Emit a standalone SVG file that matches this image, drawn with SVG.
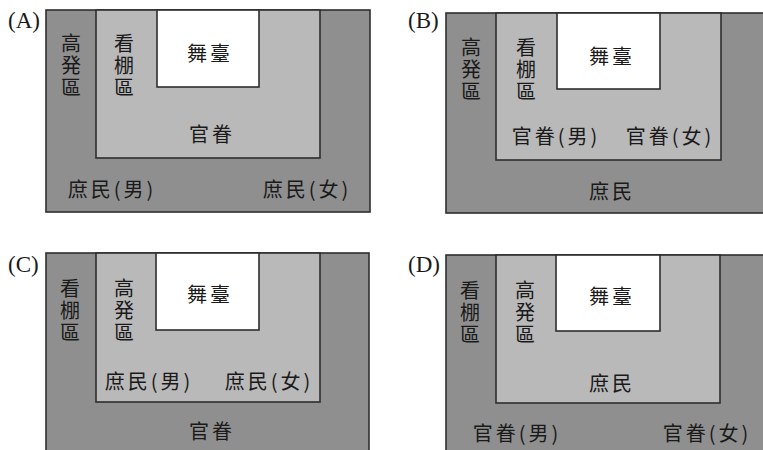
<svg xmlns="http://www.w3.org/2000/svg" width="763" height="450" viewBox="0 0 763 450">
<style>
.outer{fill:#8f8f8f;stroke:#2e2e2e;stroke-width:1.6}
.inner{fill:#b9b9b9;stroke:#2e2e2e;stroke-width:1.6}
.stage{fill:#ffffff;stroke:#2e2e2e;stroke-width:1.6}
.t{font-family:"Noto Sans CJK TC","Noto Sans CJK JP",sans-serif;font-size:20px;fill:#1a1a1a;text-anchor:middle;dominant-baseline:central;letter-spacing:3px}
.v{font-family:"Noto Sans CJK TC","Noto Sans CJK JP",sans-serif;font-size:20px;fill:#1a1a1a;writing-mode:vertical-rl;text-anchor:start;letter-spacing:2px}
.lbl{font-family:"Liberation Serif",serif;font-size:23px;fill:#1a1a1a}
</style>
<rect width="763" height="450" fill="#ffffff"/>

<g id="panelA">
<text class="lbl" x="8" y="28">(A)</text>
<rect class="outer" x="46" y="10" width="324" height="202"/>
<rect class="inner" x="96" y="10" width="224" height="148"/>
<rect class="stage" x="157" y="10" width="102" height="77"/>
<text id="A-gaodeng" class="v" x="71" y="33">高発區</text>
<text id="A-kanpeng" class="v" x="124" y="33">看棚區</text>
<text class="t" x="210" y="52">舞臺</text>
<text class="t" x="212" y="133">官眷</text>
<text class="t" x="112" y="188">庶民(男)</text>
<text class="t" x="307" y="188">庶民(女)</text>
</g>

<g id="panelB">
<text class="lbl" x="408" y="28">(B)</text>
<rect class="outer" x="446" y="13" width="330" height="200"/>
<rect class="inner" x="496" y="13" width="225" height="147"/>
<rect class="stage" x="557" y="13" width="103" height="76"/>
<text id="B-gaodeng" class="v" x="471" y="37">高発區</text>
<text id="B-kanpeng" class="v" x="526" y="37">看棚區</text>
<text class="t" x="612" y="55">舞臺</text>
<text class="t" x="556" y="135">官眷(男)</text>
<text class="t" x="670" y="135">官眷(女)</text>
<text class="t" x="612" y="190">庶民</text>
</g>

<g id="panelC">
<text class="lbl" x="8" y="272">(C)</text>
<rect class="outer" x="46" y="253" width="323" height="210"/>
<rect class="inner" x="96" y="253" width="224" height="149"/>
<rect class="stage" x="156" y="253" width="103" height="77"/>
<text id="C-kanpeng" class="v" x="70" y="278">看棚區</text>
<text id="C-gaodeng" class="v" x="124" y="278">高発區</text>
<text class="t" x="210" y="293">舞臺</text>
<text class="t" x="149" y="380">庶民(男)</text>
<text class="t" x="269" y="380">庶民(女)</text>
<text class="t" x="212" y="430">官眷</text>
</g>

<g id="panelD">
<text class="lbl" x="408" y="272">(D)</text>
<rect class="outer" x="446" y="255" width="330" height="210"/>
<rect class="inner" x="496" y="255" width="224" height="148"/>
<rect class="stage" x="556" y="255" width="104" height="76"/>
<text id="D-kanpeng" class="v" x="470" y="280">看棚區</text>
<text id="D-gaodeng" class="v" x="525" y="280">高発區</text>
<text class="t" x="612" y="295">舞臺</text>
<text class="t" x="612" y="382">庶民</text>
<text class="t" x="517" y="432">官眷(男)</text>
<text class="t" x="707" y="432">官眷(女)</text>
</g>
</svg>
